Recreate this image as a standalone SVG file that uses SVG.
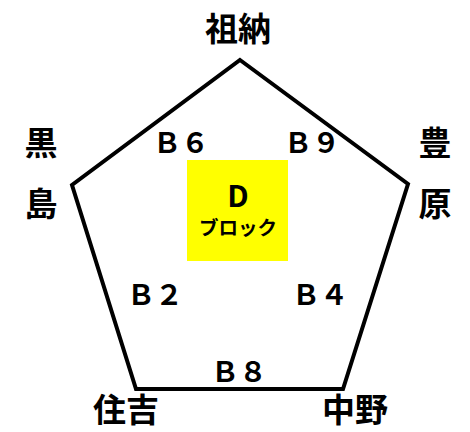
<svg xmlns="http://www.w3.org/2000/svg" width="470" height="432" viewBox="0 0 470 432">
<style>
.t{font-family:"Noto Sans CJK JP","Noto Sans",sans-serif;font-weight:bold;fill:#000;text-anchor:middle}
.big{font-size:33px}
.b{font-size:28px}
</style>
<rect width="470" height="432" fill="#fff"/>
<g id="connectors">
<polygon points="240,60 408,184 343,389 136,389 72,185" fill="none" stroke="#000" stroke-width="4" stroke-linejoin="miter"/>
</g>
<g id="block">
<rect x="187" y="160" width="101" height="101" fill="#ffff00"/>
<text class="t" x="238" y="207" font-size="30">D</text>
<text class="t" x="238" y="235" font-size="19.5">ブロック</text>
</g>
<g id="sona"><text class="t big" x="238" y="41">祖納</text></g>
<g id="kuroshima"><text class="t big" x="41" y="155">黒</text><text class="t big" x="41" y="216">島</text></g>
<g id="toyohara"><text class="t big" x="435" y="155">豊</text><text class="t big" x="435" y="216">原</text></g>
<g id="sumiyoshi"><text class="t big" x="126" y="422">住吉</text></g>
<g id="nakano"><text class="t big" x="355" y="422">中野</text></g>
<g id="b6"><text class="t b" x="181" y="153">Ｂ６</text></g>
<g id="b9"><text class="t b" x="312" y="153">Ｂ９</text></g>
<g id="b2"><text class="t b" x="155" y="305">Ｂ２</text></g>
<g id="b4"><text class="t b" x="320" y="305">Ｂ４</text></g>
<g id="b8"><text class="t b" x="239" y="382">Ｂ８</text></g>
</svg>
